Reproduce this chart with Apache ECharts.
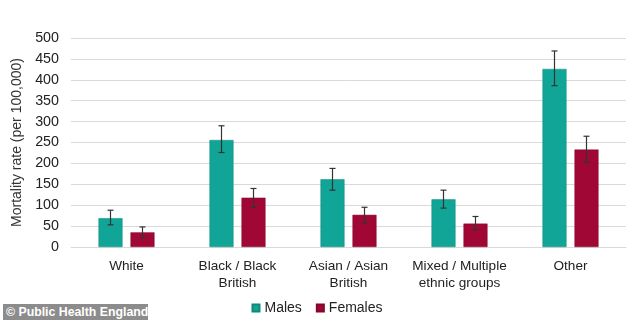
<!DOCTYPE html>
<html><head><meta charset="utf-8">
<script src="https://cdn.jsdelivr.net/npm/echarts@6/dist/echarts.min.js"></script>
<style>html,body{margin:0;padding:0;background:#fff}#c{width:634px;height:321px}
#wm{position:absolute;left:3px;top:304px;height:16px;width:145px;background:#8c8c8c;color:#fff;font:bold 12.3px "Liberation Sans",Arial,sans-serif;line-height:16px;padding-left:3px;box-sizing:border-box;white-space:nowrap;overflow:hidden}</style>
</head><body><div id="c"></div><div id="wm">© Public Health England</div>
<script>
var categories = ['White', 'Black / Black\nBritish', 'Asian / Asian\nBritish', 'Mixed / Multiple\nethnic groups', 'Other'];
var males = [69, 256, 162, 114, 426];
var malesLow = [53, 226, 136, 93, 386];
var malesHigh = [88, 290, 188, 136, 469];
var females = [35, 118, 77, 56, 233];
var femalesLow = [22, 95, 58, 41, 203];
var femalesHigh = [48, 140, 95, 73, 265];
var yTicks = [0, 50, 100, 150, 200, 250, 300, 350, 400, 450, 500];

var BW = 24, GAP = 8;
var font = '"Liberation Sans", Arial, sans-serif';
function errSeries(low, high, sign) {
  return {
    type: 'custom', z: 10, silent: true,
    data: low.map(function (l, i) { return [i, l, high[i]]; }),
    renderItem: function (params, api) {
      var lo = api.coord([api.value(0), api.value(1)]);
      var hi = api.coord([api.value(0), api.value(2)]);
      var x = lo[0] + sign * (BW + GAP) / 2;
      var st = { stroke: '#333', lineWidth: 1.2 };
      return { type: 'group', children: [
        { type: 'line', shape: { x1: x, y1: lo[1], x2: x, y2: hi[1] }, style: st },
        { type: 'line', shape: { x1: x - 3, y1: hi[1], x2: x + 3, y2: hi[1] }, style: st },
        { type: 'line', shape: { x1: x - 3, y1: lo[1], x2: x + 3, y2: lo[1] }, style: st }
      ]};
    }
  };
}
var chart = echarts.init(document.getElementById('c'));
chart.setOption({
  animation: false,
  grid: { left: 71, right: 8, top: 38, bottom: 74 },
  legend: {
    data: ['Males', 'Females'], bottom: 1, left: 'center',
    itemWidth: 7, itemHeight: 7, itemGap: 14, icon: 'rect',
    textStyle: { fontFamily: font, fontSize: 14, color: '#222' }
  },
  xAxis: {
    type: 'category', data: categories,
    axisLine: { show: true, lineStyle: { color: '#d9d9d9' } },
    axisTick: { show: false },
    axisLabel: { interval: 0, fontFamily: font, fontSize: 13.6, color: '#222', margin: 11, lineHeight: 17 }
  },
  yAxis: {
    type: 'value', min: 0, max: 500, interval: 50,
    name: 'Mortality rate (per 100,000)', nameLocation: 'middle', nameGap: 40,
    nameTextStyle: { fontFamily: font, fontSize: 14, color: '#333' },
    axisLine: { show: false }, axisTick: { show: false },
    axisLabel: { fontFamily: font, fontSize: 14.3, color: '#222', margin: 12,
      formatter: function (v) { return yTicks.indexOf(v) >= 0 ? String(v) : ''; } },
    splitLine: { lineStyle: { color: '#d9d9d9' } }
  },
  series: [
    { name: 'Males', type: 'bar', data: males, barWidth: BW, barGap: (GAP / BW * 100) + '%',
      itemStyle: { color: '#10A596', borderColor: '#0c8a7d', borderWidth: 0.5 } },
    { name: 'Females', type: 'bar', data: females, barWidth: BW,
      itemStyle: { color: '#A10735', borderColor: '#85052b', borderWidth: 0.5 } },
    errSeries(malesLow, malesHigh, -1),
    errSeries(femalesLow, femalesHigh, 1)
  ]
});
</script></body></html>
